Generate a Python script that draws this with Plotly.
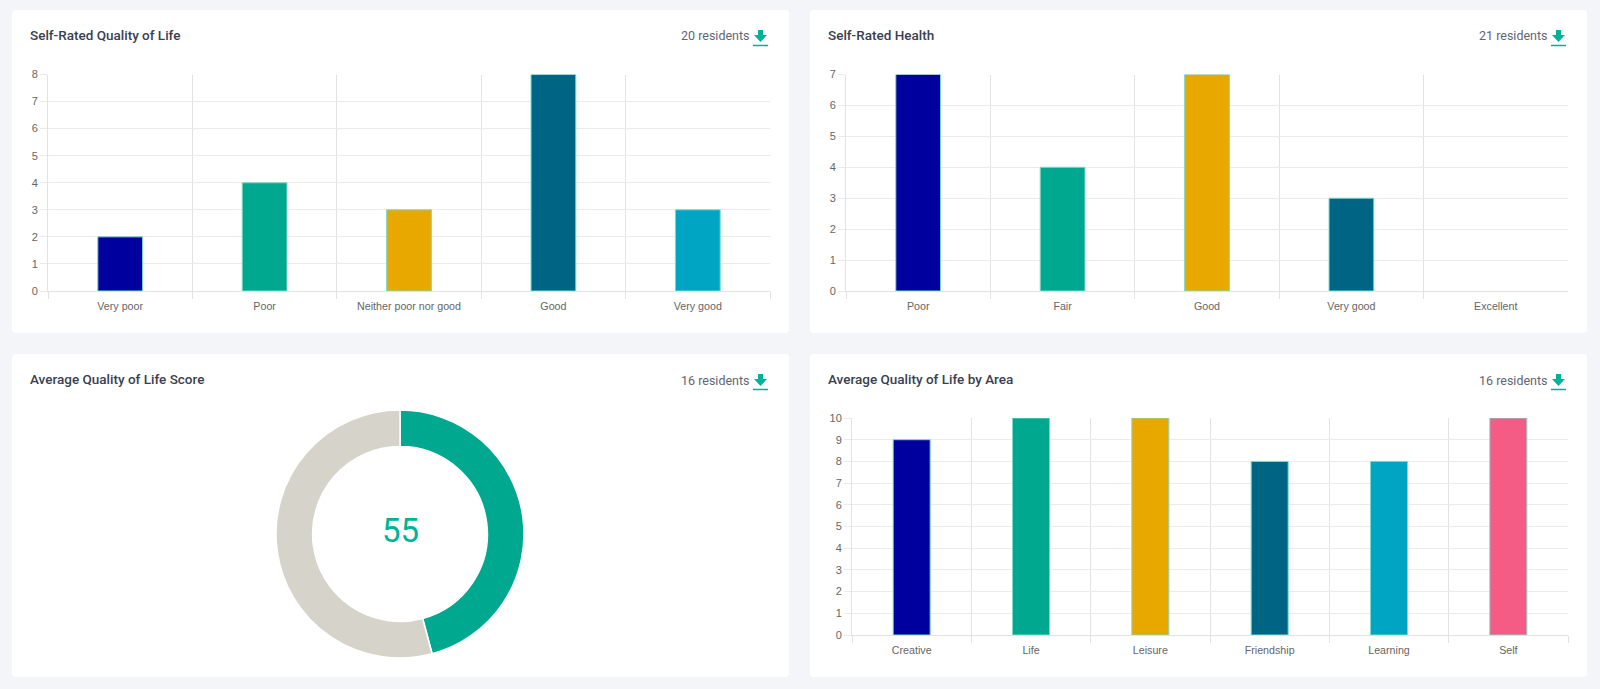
"""Resident survey dashboard: three bar charts and a donut on white cards."""

import plotly.graph_objects as go

W = 1600
H = 689

BLUE = '#00009e'
TEAL = '#00a88f'
AMBER = '#e8a800'
PETROL = '#006484'
CYAN = '#00a5c4'
PINK = '#f45b85'

qol_labels = ['Very poor', 'Poor', 'Neither poor nor good', 'Good', 'Very good']
qol_values = [2, 4, 3, 8, 3]
qol_colors = [BLUE, TEAL, AMBER, PETROL, CYAN]

health_labels = ['Poor', 'Fair', 'Good', 'Very good', 'Excellent']
health_values = [7, 4, 7, 3, 0]
health_colors = [BLUE, TEAL, AMBER, PETROL, CYAN]

area_labels = ['Creative', 'Life', 'Leisure', 'Friendship', 'Learning', 'Self']
area_values = [9, 10, 10, 8, 8, 10]
area_colors = [BLUE, TEAL, AMBER, PETROL, CYAN, PINK]

score_value = 55
score_rest = 65


def px(x):
    return x / W


def py(y):
    return 1 - y / H


def card_path(x0, y0, x1, y1, r=4):
    """Rounded rectangle as an svg path, in paper coordinates"""
    return (
        f'M {px(x0 + r)} {py(y0)} L {px(x1 - r)} {py(y0)} '
        f'Q {px(x1)} {py(y0)} {px(x1)} {py(y0 + r)} L {px(x1)} {py(y1 - r)} '
        f'Q {px(x1)} {py(y1)} {px(x1 - r)} {py(y1)} L {px(x0 + r)} {py(y1)} '
        f'Q {px(x0)} {py(y1)} {px(x0)} {py(y1 - r)} L {px(x0)} {py(y0 + r)} '
        f'Q {px(x0)} {py(y0)} {px(x0 + r)} {py(y0)} Z'
    )


def icon_path(x, y):
    """Download arrow, x is the left edge of the underline, y its top"""
    pts = [(5, 0), (10, 0), (10, 5), (14, 5), (7.5, 12), (1, 5), (5, 5)]
    d = ' '.join(
        f'{"M" if i == 0 else "L"} {px(x + a)} {py(y + b)}'
        for i, (a, b) in enumerate(pts)
    )
    return d + ' Z'


cards = [
    (12, 10, 789, 333, 'Self-Rated Quality of Life', '20 residents'),
    (810, 10, 1587, 333, 'Self-Rated Health', '21 residents'),
    (12, 354, 789, 677, 'Average Quality of Life Score', '16 residents'),
    (810, 354, 1587, 677, 'Average Quality of Life by Area', '16 residents'),
]

shapes = []
annotations = []

for x0, y0, x1, y1, title, count in cards:
    shapes.append(dict(type='path', path=card_path(x0, y0, x1, y1), xref='paper', yref='paper',
                       fillcolor='white', line=dict(width=0), layer='below'))
    annotations.append(dict(text=title, x=px(x0 + 16), y=py(y0 + 25), xref='paper', yref='paper',
                            xanchor='left', yanchor='middle', showarrow=False,
                            font=dict(family='Roboto', size=13.5, color='#3a4050', weight=500)))
    annotations.append(dict(text=count, x=px(x1 - 37), y=py(y0 + 26), xref='paper', yref='paper',
                            xanchor='right', yanchor='middle', showarrow=False,
                            font=dict(family='Roboto', size=12.5, color='#5f6672')))
    shapes.append(dict(type='path', path=icon_path(x1 - 36, y0 + 20), xref='paper', yref='paper',
                       fillcolor='#00b398', line=dict(width=0)))
    shapes.append(dict(type='line', x0=px(x1 - 36), x1=px(x1 - 21), y0=py(y0 + 35.5), y1=py(y0 + 35.5),
                       xref='paper', yref='paper', line=dict(color='#00b398', width=1.5)))

fig = go.Figure()

# left, right, top, bottom of each plot area in pixels
charts = [
    (qol_labels, qol_values, qol_colors, 8, (48, 770, 74.5, 291), ''),
    (health_labels, health_values, health_colors, 7, (846, 1568, 74.5, 291), '2'),
    (area_labels, area_values, area_colors, 10, (852, 1568, 418, 635), '3'),
]

layout_axes = {}
for labels, values, colors, ymax, box, suffix in charts:
    fig.add_trace(go.Bar(
        x=labels,
        y=values,
        xaxis='x' + suffix,
        yaxis='y' + suffix,
        # no outline on empty bars, they would show as a line on the axis
        marker=dict(color=colors, line=dict(color='#7fd8c8', width=[1 if v else 0 for v in values])),
        showlegend=False,
    ))
    layout_axes['xaxis' + suffix] = dict(
        domain=[px(box[0]), px(box[1])],
        anchor='y' + suffix,
        range=[-0.5, len(labels) - 0.5],
        tickson='boundaries',
        ticks='outside',
        ticklen=7,
        tickcolor='#e2e2e2',
        ticklabelstandoff=5,
        showgrid=True,
        gridcolor='#e2e2e2',
        showline=True,
        linecolor='#e2e2e2',
        linewidth=1,
        zeroline=False,
        tickfont=dict(family='Liberation Sans', size=10.7, color='#666666'),
    )
    layout_axes['yaxis' + suffix] = dict(
        domain=[py(box[3]), py(box[2])],
        anchor='x' + suffix,
        range=[0, ymax],
        dtick=1,
        ticks='outside',
        ticklen=7,
        tickcolor='#ebebeb',
        showgrid=True,
        gridcolor='#ebebeb',
        showline=True,
        linecolor='#e2e2e2',
        linewidth=1,
        zeroline=False,
        tickfont=dict(family='Liberation Sans', size=11, color='#666666'),
    )

fig.add_trace(go.Pie(
    values=[score_value, score_rest],
    sort=False,
    direction='clockwise',
    hole=0.705,
    textinfo='none',
    showlegend=False,
    marker=dict(colors=[TEAL, '#d6d3ca'], line=dict(color='white', width=1.5)),
    domain=dict(x=[px(400 - 124), px(400 + 124)], y=[py(534 + 124), py(534 - 124)]),
))

annotations.append(dict(text=str(score_value), x=px(400), y=py(530), xref='paper', yref='paper',
                        xanchor='center', yanchor='middle', showarrow=False,
                        font=dict(family='Roboto', size=33, color='#00b398')))

fig.update_layout(
    width=W,
    height=H,
    margin=dict(l=0, r=0, t=0, b=0, autoexpand=False),
    paper_bgcolor='#f4f5f9',
    plot_bgcolor='rgba(0,0,0,0)',
    bargap=0.69,
    shapes=shapes,
    annotations=annotations,
    **layout_axes,
)

fig.write_html("out.html", config=dict(displayModeBar=False), post_script="document.body.style.margin='0';")
